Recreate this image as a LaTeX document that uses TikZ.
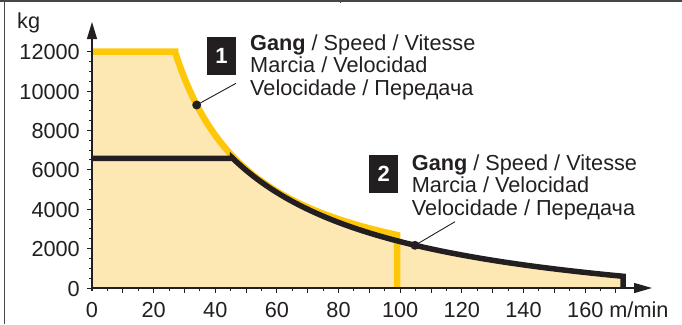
\documentclass[tikz,border=0pt]{standalone}
\usepackage{fontspec}
\setmainfont{Liberation Sans}
\usetikzlibrary{arrows.meta}
\definecolor{ylw}{HTML}{FFC70A}
\definecolor{fillc}{HTML}{FDE8B4}
\definecolor{ink}{HTML}{231F20}
\begin{document}
\begin{tikzpicture}[x=1pt,y=-1pt, font=\fontsize{21.7}{22.5}\selectfont, text=ink,
  ax/.style={line width=1.3pt, draw=ink},
  tk/.style={line width=1pt, draw=ink},
  ylab/.style={anchor=base east, inner sep=0pt},
  xlab/.style={anchor=base, inner sep=0pt},
  numbox/.style={fill=ink, text=white, minimum width=29pt, minimum height=38pt, inner sep=0pt, font=\fontsize{22}{22}\selectfont\bfseries},
  gtext/.style={anchor=base west, align=left, inner sep=0pt},
  yline/.style={draw=ylw, line width=6.5pt, line join=miter},
  bline/.style={draw=ink, line width=5.5pt, line join=miter},
  leader/.style={draw=ink, line width=0.9pt},
  dotc/.style={circle, fill=ink, inner sep=0pt, minimum size=9pt},
  frame/.style={line width=1.5pt, draw=black!72}
]
\useasboundingbox (0,0) rectangle (682,324);
% frame
\draw[frame] (0,1) -- (682,1);
\draw[frame] (4.5,0) -- (4.5,324);
\draw[line width=1pt, draw=black!72] (340,0) -- (340,3);
% area
\fill[fillc] (92,288) -- (92,51.7) -- (175,51.7)
  -- plot[domain=175:397,samples=80] (\x,{300.8-198.58/((\x-95.28)/100)})
  -- (397,{329.9-304.46/((397-55.3)/100)})
  -- plot[domain=397:623,samples=80] (\x,{329.9-304.46/((\x-55.3)/100)})
  -- (623,288) -- cycle;
% gear 1 (yellow)
\draw[yline] (92,51.7) -- (175,51.7)
  -- plot[domain=175:397,samples=80] (\x,{300.8-198.58/((\x-95.28)/100)})
  -- (397,288);
% gear 2 (black)
\draw[bline] (92,158.3) -- (232.7,158.3)
  -- plot[domain=232.7:623,samples=100] (\x,{329.9-304.46/((\x-55.3)/100)})
  -- (623,288);
% ticks
\foreach \v in {10,20,...,170} \draw[tk] ({92+3.082*\v},288) -- ++(0,5);
\foreach \v in {5,15,...,165} \draw[tk] ({92+3.082*\v},288) -- ++(0,3);
\foreach \L in {500,1000,...,11500} \draw[tk] (92,{288-0.019692*\L}) -- ++(-3,0);
\foreach \L in {0,2000,...,12000} \draw[tk] (92,{288-0.019692*\L}) -- ++(-5,0);
% axes
\draw[ax, -{Triangle[length=17pt,width=10pt]}] (92,291) -- (92,22);
\draw[ax, -{Triangle[length=18pt,width=10pt]}] (91,288) -- (652,288);
% labels
\foreach \L in {0,2000,...,12000} \node[ylab] (yl\L) at (80,{288-0.019692*\L+8}) {\L};
\foreach \v in {0,20,...,140} \node[xlab] (xl\v) at ({92+3.082*\v},317) {\v};
\node[anchor=base west, inner sep=0pt] (xl160) at (567,317) {160 m/min};
\node[anchor=base west, inner sep=0pt] (kg) at (17,28) {kg};
% legends (base = last line)
\node[numbox] (b1) at (221.5,56) {1};
\node[gtext] (t1) at (250,95) {\textbf{Gang} / Speed / Vitesse\\Marcia / Velocidad\\Velocidade / Передача};
\node[numbox] (b2) at (383.8,173.9) {2};
\node[gtext] (t2) at (411.7,215) {\textbf{Gang} / Speed / Vitesse\\Marcia / Velocidad\\Velocidade / Передача};
% leaders
\node[dotc] (d1) at (196.7,105) {};
\coordinate (l1) at (236,83.3);
\draw[leader] (d1.center) -- (l1);
\node[dotc] (d2) at (415,245.3) {};
\coordinate (l2) at (455,221.7);
\draw[leader] (d2.center) -- (l2);
\end{tikzpicture}
\end{document}
